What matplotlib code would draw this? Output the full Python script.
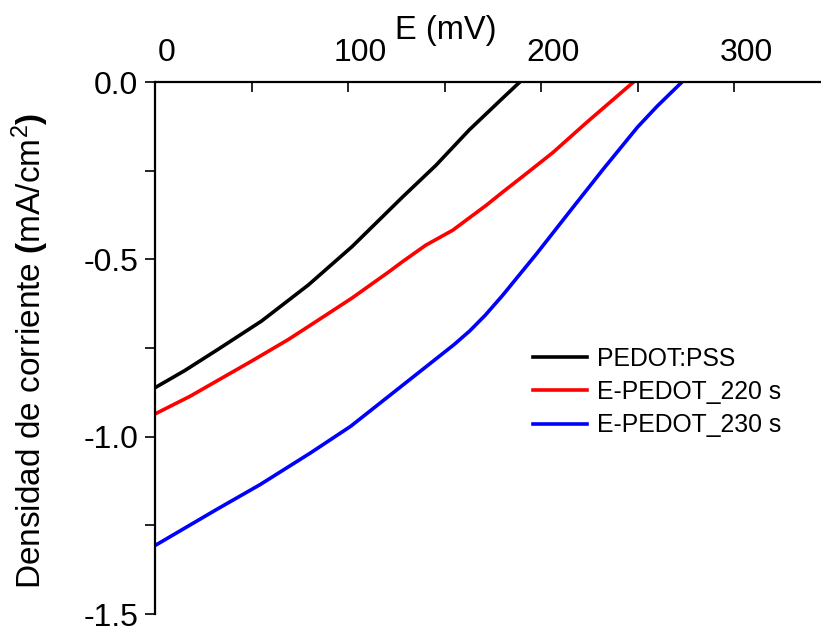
import matplotlib
matplotlib.use("Agg")
import matplotlib.pyplot as plt
from matplotlib.transforms import ScaledTranslation
from matplotlib.ticker import MultipleLocator

plt.rcParams['font.family'] = ['Liberation Sans', 'DejaVu Sans']
plt.rcParams['mathtext.fontset'] = 'custom'
plt.rcParams['mathtext.rm'] = 'Liberation Sans'
plt.rcParams['mathtext.it'] = 'Liberation Sans:italic'
plt.rcParams['mathtext.bf'] = 'Liberation Sans:bold'

# Potential (mV) and current density (mA/cm^2) for each film
e_pedot = [0, 15.3, 32.6, 55.2, 79.5, 102.1, 128.1, 145.5, 162.8, 180.2, 189.0]
j_pedot = [-0.862, -0.814, -0.754, -0.674, -0.572, -0.464, -0.325, -0.235, -0.135, -0.045, 0.0]

e_220 = [0, 18.2, 49.7, 69.1, 81.0, 102.1, 121.2, 128.1, 140.3, 154.2,
         171.5, 180.2, 188.9, 201.0, 206.3, 223.6, 247.9]
j_220 = [-0.936, -0.886, -0.788, -0.726, -0.684, -0.609, -0.535, -0.507, -0.460, -0.418,
         -0.348, -0.310, -0.273, -0.221, -0.198, -0.114, 0.0]

e_230 = [0, 32.0, 54.5, 80.5, 101.3, 122.0, 142.0, 155.0, 163.0, 171.0, 180.0,
         198.0, 215.0, 232.0, 250.0, 260.0, 273.0]
j_230 = [-1.307, -1.205, -1.135, -1.046, -0.971, -0.882, -0.796, -0.740, -0.702, -0.658, -0.602,
         -0.482, -0.364, -0.247, -0.127, -0.069, 0.0]

labels = ["PEDOT:PSS", "E-PEDOT_220 s", "E-PEDOT_230 s"]
colors = ["black", "red", "blue"]

x_ticks = [0, 100, 200, 300]
y_ticks = [0.0, -0.5, -1.0, -1.5]

fig = plt.figure(figsize=(8.21, 6.32), dpi=100)
ax = fig.add_axes([155 / 821, 1 - 614 / 632, (821 - 155) / 821, (614 - 82) / 632])

for e, j, lab, c in zip([e_pedot, e_220, e_230], [j_pedot, j_220, j_230], labels, colors):
    ax.plot(e, j, color=c, lw=2.6, label=lab, solid_joinstyle='round')

ax.set_xlim(0, 345)
ax.set_ylim(-1.5, 0)

# x axis drawn along the top edge
ax.xaxis.tick_top()
ax.xaxis.set_label_position('top')
ax.spines['bottom'].set_visible(False)
ax.spines['right'].set_visible(False)
for s in ['top', 'left']:
    ax.spines[s].set_linewidth(1.6)

ax.set_xticks(x_ticks)
ax.xaxis.set_minor_locator(MultipleLocator(50))
ax.set_yticks(y_ticks)
ax.set_yticklabels(["%.1f" % v for v in y_ticks])
ax.yaxis.set_minor_locator(MultipleLocator(0.25))

ax.tick_params(axis='x', which='both', direction='in', length=7, width=1.2,
               top=True, bottom=False, labeltop=True, labelbottom=False,
               labelsize=23, pad=10)
ax.tick_params(axis='y', which='both', direction='out', length=7, width=1.2,
               labelsize=23, pad=5)

offset = ScaledTranslation(12 / 100, 0, fig.dpi_scale_trans)
for lbl in ax.get_xticklabels():
    lbl.set_transform(lbl.get_transform() + offset)

fig.text(446 / 821, 1 - 30 / 632, "E (mV)", fontsize=23.5, ha='center', va='center')

fig.text(30 / 821, 1 - 351 / 632,
         r"Densidad de corriente $\mathbf{(}$mA/cm$^{2}$$\mathbf{)}$",
         fontsize=24, rotation=90, ha='center', va='center')

ax.legend(loc='upper left', bbox_to_anchor=(0.5415, 0.535), frameon=False,
          fontsize=17.8, handlelength=2.2, handletextpad=0.4,
          labelspacing=0.38, borderpad=0.2)

fig.savefig("out.png", dpi=100)
